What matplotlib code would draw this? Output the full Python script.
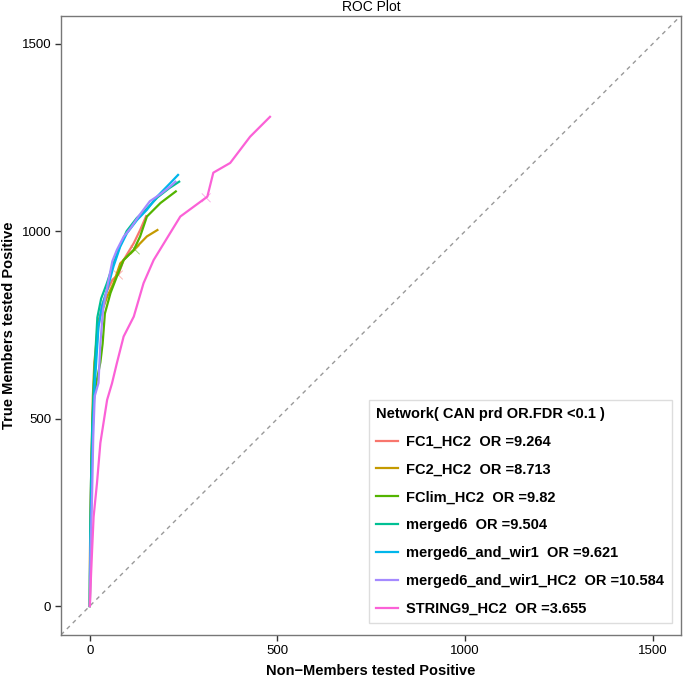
import matplotlib
matplotlib.use("Agg")
import matplotlib.pyplot as plt

plt.rcParams['font.family'] = ['Liberation Sans', 'DejaVu Sans']

# curves (non-members, true members)
fc1_x = [0, 1, 3, 6, 10, 15, 22, 32, 45, 60, 76, 90, 117, 134, 150]
fc1_y = [0, 150, 300, 450, 560, 650, 740, 800, 840, 870, 885, 923, 968, 1003, 1040]

fc2_x = [0, 0, 2, 5, 8, 12, 17, 22, 30, 46, 63, 81, 99, 117, 152, 180]
fc2_y = [0, 120, 280, 420, 560, 650, 700, 760, 780, 825, 861, 914, 932, 950, 986, 1003]

fclim_x = [0, 1, 3, 5, 9, 18, 28, 34, 40, 55, 72, 90, 117, 134, 152, 188, 229]
fclim_y = [0, 130, 260, 400, 540, 600, 650, 700, 780, 835, 879, 923, 950, 986, 1039, 1075, 1106]

m6_x = [0, 1, 3, 6, 10, 15, 20, 30, 45, 60, 78, 98, 125, 152, 180, 212, 238]
m6_y = [0, 180, 330, 470, 580, 680, 770, 820, 860, 905, 955, 1000, 1035, 1060, 1090, 1115, 1132]

m6w_x = [0, 0, 2, 5, 8, 13, 19, 23, 32, 46, 63, 81, 99, 126, 152, 179, 214, 235]
m6w_y = [0, 80, 200, 350, 480, 590, 683, 745, 799, 843, 906, 959, 995, 1030, 1057, 1092, 1128, 1150]

m6wh_x = [0, 2, 6, 9, 13, 23, 28, 35, 48, 60, 72, 90, 110, 130, 160, 190, 215, 228]
m6wh_y = [0, 150, 300, 450, 560, 595, 700, 790, 860, 920, 950, 985, 1010, 1040, 1080, 1100, 1120, 1132]

str9_x = [0, 3, 6, 10, 19, 28, 46, 59, 72, 90, 117, 143, 170, 214, 241, 290, 313, 329, 374, 427, 480]
str9_y = [0, 80, 150, 238, 328, 435, 550, 594, 648, 719, 772, 861, 923, 995, 1039, 1075, 1092, 1156, 1182, 1252, 1305]

labels = ["FC1_HC2  OR =9.264", "FC2_HC2  OR =8.713", "FClim_HC2  OR =9.82",
          "merged6  OR =9.504", "merged6_and_wir1  OR =9.621",
          "merged6_and_wir1_HC2  OR =10.584", "STRING9_HC2  OR =3.655"]
colors = ["#F8766D", "#C49A00", "#53B400", "#00C094", "#00B6EB", "#A58AFF", "#FB61D7"]
xs = [fc1_x, fc2_x, fclim_x, m6_x, m6w_x, m6wh_x, str9_x]
ys = [fc1_y, fc2_y, fclim_y, m6_y, m6w_y, m6wh_y, str9_y]

# FDR cut-off marks
cut_x = [76, 121, 310]
cut_y = [883, 950, 1089]
cut_col = ["#F8766D", "#53B400", "#FB61D7"]

ticks = [0, 500, 1000, 1500]
lim = (-77, 1575)

fig = plt.figure(figsize=(6.85, 6.79), dpi=100)
ax = fig.add_axes([0.089, 0.065, 0.905, 0.912])

ax.plot(lim, lim, color="#999999", linestyle=(0, (3, 3)), linewidth=1)
for x, y, c, lab in zip(xs, ys, colors, labels):
    ax.plot(x, y, color=c, linewidth=1.6, label=lab)
ax.scatter(cut_x, cut_y, marker="x", s=40, c=cut_col, linewidths=0.6, alpha=0.6)

ax.set_xlim(lim)
ax.set_ylim(lim)
ax.set_xticks(ticks)
ax.set_yticks(ticks)
ax.tick_params(length=4, width=1, labelsize=9.5, color="#333333", pad=3)
for s in ax.spines.values():
    s.set_color("#777777")
    s.set_linewidth(1)

ax.set_title("ROC Plot", fontsize=10, pad=3)
ax.set_xlabel("Non\u2212Members tested Positive", fontsize=10.5, fontweight="bold", labelpad=5)
ax.set_ylabel("True Members tested Positive", fontsize=10.5, fontweight="bold", labelpad=4)

leg = ax.legend(title="Network( CAN prd OR.FDR <0.1 )", loc="lower right",
                bbox_to_anchor=(0.985, 0.019), borderaxespad=0,
                prop={"weight": "bold", "size": 10.5},
                title_fontproperties={"weight": "bold", "size": 10.5},
                handlelength=1.45, handletextpad=0.6, labelspacing=0.95,
                fancybox=False, edgecolor="#dddddd", framealpha=1,
                borderpad=0.5)
leg._legend_box.align = "left"

fig.savefig("out.png", dpi=100)
